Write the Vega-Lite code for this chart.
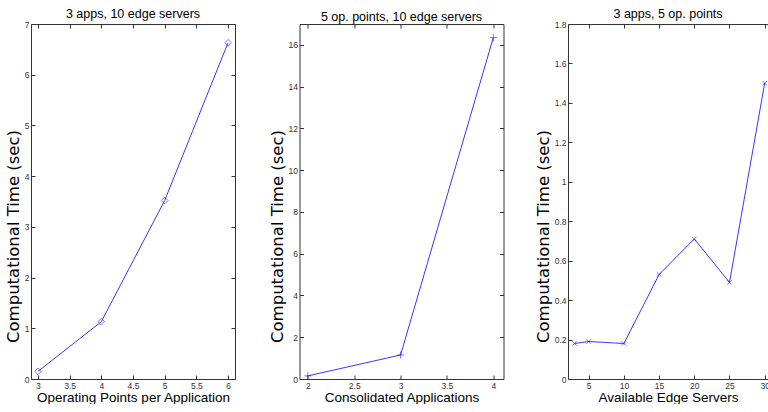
{
  "$schema": "https://vega.github.io/schema/vega-lite/v6.json",
  "autosize": "pad",
  "padding": {"left": 5, "top": 7, "right": 0, "bottom": 0},
  "bounds": "flush",
  "spacing": 64.5,
  "config": {
    "font": "Liberation Sans",
    "view": {"stroke": null},
    "title": {"fontSize": 12.5, "fontWeight": "normal", "color": "#000", "offset": 0, "dy": 4, "anchor": "middle"},
    "axis": {
      "grid": false,
      "labelFontSize": 8.5,
      "labelColor": "#333",
      "domainColor": "#333",
      "tickColor": "#333",
      "tickSize": -4,
      "labelPadding": 6,
      "titleFontWeight": "normal",
      "titleColor": "#000",
      "format": "~g"
    },
    "axisBottom": {"labelPadding": 6, "titlePadding": 1, "titleFontSize": 13.5},
    "axisLeft": {"titlePadding": 3, "titleFont": "DejaVu Sans", "titleFontSize": 16.5, "titleY": 212}
  },
  "hconcat": [
    {
      "width": 204,
      "height": 355,
      "title": "3 apps, 10 edge servers",
      "data": {"values": [
        {"x": 3, "y": 0.15},
        {"x": 4, "y": 1.13},
        {"x": 5, "y": 3.52},
        {"x": 6, "y": 6.63}
      ]},
      "layer": [
        {
          "mark": {"type": "line", "color": "#2020ff", "strokeWidth": 0.9},
          "encoding": {
            "x": {"field": "x", "type": "quantitative", "scale": {"domain": [2.89, 6.11], "nice": false, "zero": false},
              "axis": {"title": "Operating Points per Application", "values": [3, 3.5, 4, 4.5, 5, 5.5, 6]}},
            "y": {"field": "y", "type": "quantitative", "scale": {"domain": [0, 7], "nice": false},
              "axis": {"title": "Computational Time (sec)", "values": [0, 1, 2, 3, 4, 5, 6, 7]}}
          }
        },
        {
          "mark": {"type": "point", "shape": "diamond", "size": 45, "filled": false, "color": "#2020ff", "strokeWidth": 0.9},
          "encoding": {
            "x": {"field": "x", "type": "quantitative", "axis": {"orient": "top", "labels": false, "title": null, "values": [3, 3.5, 4, 4.5, 5, 5.5, 6]}},
            "y": {"field": "y", "type": "quantitative", "axis": {"orient": "right", "labels": false, "title": null, "values": [0, 1, 2, 3, 4, 5, 6, 7]}}
          }
        }
      ],
      "resolve": {"axis": {"x": "independent", "y": "independent"}}
    },
    {
      "width": 204,
      "height": 355,
      "title": "5 op. points, 10 edge servers",
      "data": {"values": [
        {"x": 2, "y": 0.15},
        {"x": 3, "y": 1.15},
        {"x": 4, "y": 16.35}
      ]},
      "layer": [
        {
          "mark": {"type": "line", "color": "#2020ff", "strokeWidth": 0.9},
          "encoding": {
            "x": {"field": "x", "type": "quantitative", "scale": {"domain": [1.91, 4.11], "nice": false, "zero": false},
              "axis": {"title": "Consolidated Applications", "values": [2, 2.5, 3, 3.5, 4]}},
            "y": {"field": "y", "type": "quantitative", "scale": {"domain": [0, 17], "nice": false},
              "axis": {"title": "Computational Time (sec)", "values": [0, 2, 4, 6, 8, 10, 12, 14, 16]}}
          }
        },
        {
          "mark": {"type": "point", "shape": "M-1,0H1M0,-1V1", "size": 50, "filled": false, "color": "#2020ff", "strokeWidth": 0.9},
          "encoding": {
            "x": {"field": "x", "type": "quantitative", "axis": {"orient": "top", "labels": false, "title": null, "values": [2, 2.5, 3, 3.5, 4]}},
            "y": {"field": "y", "type": "quantitative", "axis": {"orient": "right", "labels": false, "title": null, "values": [0, 2, 4, 6, 8, 10, 12, 14, 16]}}
          }
        }
      ],
      "resolve": {"axis": {"x": "independent", "y": "independent"}}
    },
    {
      "width": 200,
      "height": 355,
      "title": "3 apps, 5 op. points",
      "data": {"values": [
        {"x": 3, "y": 0.18},
        {"x": 5, "y": 0.19},
        {"x": 10, "y": 0.18},
        {"x": 15, "y": 0.53},
        {"x": 20, "y": 0.71},
        {"x": 25, "y": 0.49},
        {"x": 30, "y": 1.5}
      ]},
      "layer": [
        {
          "mark": {"type": "line", "color": "#2020ff", "strokeWidth": 0.9},
          "encoding": {
            "x": {"field": "x", "type": "quantitative", "scale": {"domain": [2.06, 30.47], "nice": false, "zero": false},
              "axis": {"title": "Available Edge Servers", "values": [5, 10, 15, 20, 25, 30]}},
            "y": {"field": "y", "type": "quantitative", "scale": {"domain": [0, 1.8], "nice": false},
              "axis": {"title": "Computational Time (sec)", "values": [0, 0.2, 0.4, 0.6, 0.8, 1, 1.2, 1.4, 1.6, 1.8]}}
          }
        },
        {
          "mark": {"type": "point", "shape": "M-1,-1L1,1M-1,1L1,-1", "size": 20, "filled": false, "color": "#2020ff", "strokeWidth": 0.9},
          "encoding": {
            "x": {"field": "x", "type": "quantitative", "axis": {"orient": "top", "labels": false, "title": null, "values": [5, 10, 15, 20, 25, 30]}},
            "y": {"field": "y", "type": "quantitative", "axis": null}
          }
        }
      ],
      "resolve": {"axis": {"x": "independent", "y": "independent"}}
    }
  ]
}
